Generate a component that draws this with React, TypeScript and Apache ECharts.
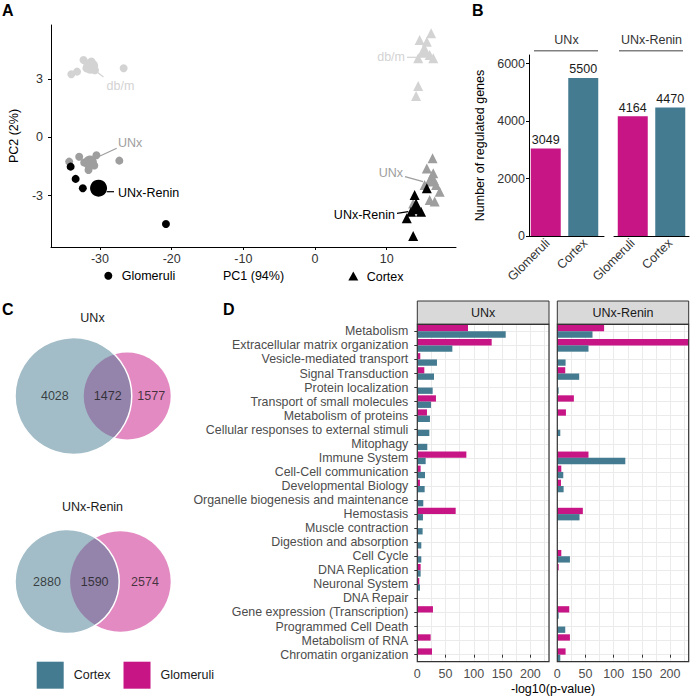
import React, { useEffect, useRef } from 'react';
import * as echarts from 'echarts';

const FONT = '"Liberation Sans", Arial, Helvetica, sans-serif';
const GLOM = '#C71585';
const CORTEX = '#457B91';
const LIGHT = '#D3D3D3';
const MID = '#9E9E9E';
const DARK = '#000000';

// ---------- Panel A : PCA ----------
const pcaXTicks = [-30, -20, -10, 0, 10];
const pcaYTicks = [-3, 0, 3];
const glomDbm = [[-34.0, 3.24], [-33.2, 3.38], [-32.3, 3.98], [-26.7, 3.55], [-31.9, 3.55], [-30.7, 3.45], [-31.2, 3.9]];
const glomDbmMean = [[-31.3, 3.65]];
const glomUnx = [[-34.3, -1.25], [-32.9, -1.0], [-30.5, -0.92], [-27.3, -1.2], [-31.6, -1.68], [-32.2, -1.3], [-30.8, -1.45]];
const glomUnxMean = [[-31.4, -1.3]];
const glomRenin = [[-34.1, -1.51], [-33.4, -2.14], [-32.4, -2.62], [-20.8, -4.46]];
const glomReninMean = [[-30.2, -2.62]];
const cortexDbm = [[16.2, 5.35], [14.6, 5.0], [15.6, 4.92], [15.1, 4.49], [16.0, 4.23], [14.4, 4.06], [16.5, 4.06], [14.4, 2.64], [14.1, 2.12]];
const cortexDbmMean = [[15.3, 4.45]];
const cortexUnx = [[16.4, -1.08], [15.6, -1.6], [16.5, -1.85], [16.0, -2.28], [16.9, -2.45], [15.3, -2.45], [17.4, -2.8], [16.0, -3.22], [13.7, -3.4], [16.7, -3.3]];
const cortexUnxMean = [[16.3, -2.1]];
const cortexRenin = [[15.6, -2.62], [13.9, -2.97], [14.1, -3.4], [13.4, -3.83], [14.8, -3.83], [12.8, -4.17], [13.7, -5.08]];
const cortexReninMean = [[14.1, -3.6]];

// ---------- Panel B : regulated genes ----------
const barGroups = ['Glomeruli', 'Cortex'];
const regulatedUNx = [3049, 5500];
const regulatedRenin = [4164, 4470];

// ---------- Panel C : Venn (cortex only, shared, glomeruli only) ----------
const vennUNx = [4028, 1472, 1577];
const vennRenin = [2880, 1590, 2574];

// ---------- Panel D : pathways ----------
const pathways = [
  'Metabolism', 'Extracellular matrix organization', 'Vesicle-mediated transport', 'Signal Transduction',
  'Protein localization', 'Transport of small molecules', 'Metabolism of proteins',
  'Cellular responses to external stimuli', 'Mitophagy', 'Immune System', 'Cell-Cell communication',
  'Developmental Biology', 'Organelle biogenesis and maintenance', 'Hemostasis', 'Muscle contraction',
  'Digestion and absorption', 'Cell Cycle', 'DNA Replication', 'Neuronal System', 'DNA Repair',
  'Gene expression (Transcription)', 'Programmed Cell Death', 'Metabolism of RNA', 'Chromatin organization',
];
const glomUNxP = [89.7, 131.6, 5.3, 12.4, 0, 33, 17.1, 0, 0, 86.8, 5.9, 4.7, 0, 67.9, 0, 0, 1.5, 5.9, 3.5, 0, 27.7, 0, 23.6, 26];
const cortexUNxP = [156.4, 62, 34.8, 29.5, 27.2, 24.2, 22.4, 21.3, 17.7, 14.8, 13.6, 13, 10.6, 10, 9.4, 7.1, 7.1, 5.9, 4.7, 0, 0, 0, 0, 0];
const glomReninP = [83, 233, 0, 14.1, 0, 29.4, 15.3, 0, 0, 55.3, 7.1, 6.5, 0, 45.3, 0, 0, 7.1, 2.4, 0, 0, 21.2, 0, 22.4, 14.7];
const cortexReninP = [62.4, 55.3, 14.7, 38.8, 2.4, 0, 0, 5.3, 0, 120.6, 10.6, 11.2, 0, 39.4, 0, 0, 22.4, 0, 0, 0, 2.4, 14.1, 0, 5.3];
const pXTicks = [0, 50, 100, 150, 200];

const f = (size: number, weight = 'normal') => `${weight} ${size}px ${FONT}`;
const plain = (v: any) => String(v);

function text(t: string, x: number, y: number, o: any = {}) {
  const align = o.align || 'left';
  const va = o.va || 'middle';
  return {
    type: 'text', x, y, z: 100, silent: true,
    style: {
      text: t, fill: o.color || '#1A1A1A', font: o.font || f(12.5),
      align, verticalAlign: va, textAlign: align, textVerticalAlign: va,
    },
  };
}
function line(x1: number, y1: number, x2: number, y2: number, color: string, w = 1) {
  return { type: 'line', z: 100, silent: true, shape: { x1, y1, x2, y2 }, style: { stroke: color, lineWidth: w } };
}

function lensArea(r1: number, r2: number, d: number) {
  if (d >= r1 + r2) return 0;
  if (d <= Math.abs(r1 - r2)) return Math.PI * Math.min(r1, r2) ** 2;
  const a = r1 * r1 * Math.acos((d * d + r1 * r1 - r2 * r2) / (2 * d * r1));
  const b = r2 * r2 * Math.acos((d * d + r2 * r2 - r1 * r1) / (2 * d * r2));
  const c = 0.5 * Math.sqrt((-d + r1 + r2) * (d + r1 - r2) * (d - r1 + r2) * (d + r1 + r2));
  return a + b - c;
}
function venn(counts: number[], cy: number) {
  const [co, both, go] = counts;
  const r1 = Math.sqrt((co + both) / Math.PI);
  const r2 = Math.sqrt((go + both) / Math.PI);
  let lo = Math.abs(r1 - r2), hi = r1 + r2;
  for (let i = 0; i < 60; i++) {
    const mid = (lo + hi) / 2;
    if (lensArea(r1, r2, mid) > both) lo = mid; else hi = mid;
  }
  const d = (lo + hi) / 2;
  const x0 = 15, W = 155.7;
  const k = W / (r1 + d + r2);
  const R1 = r1 * k, R2 = r2 * k;
  const cx1 = x0 + R1, cx2 = cx1 + d * k;
  const glomLeft = cx2 - R2, cortexRight = cx1 + R1, glomRight = cx2 + R2;
  return {
    cortex: { c: [cx1, cy], size: 2 * R1 },
    glom: { c: [cx2, cy], size: 2 * R2 },
    labels: [
      [glomLeft - 0.42 * (glomLeft - x0), cy, co],
      [(glomLeft + cortexRight) / 2, cy, both],
      [(cortexRight + glomRight) / 2, cy, go],
    ],
  };
}

function buildOption() {
  const A = { left: 51, top: 25, width: 405, height: 222 };
  const B1 = { left: 529, top: 55, width: 75, height: 181 };
  const B2 = { left: 614, top: 55, width: 75, height: 181 };
  const D1 = { left: 417.3, top: 324.3, width: 131.7, height: 337.4 };
  const D2 = { left: 557.3, top: 324.3, width: 131.4, height: 337.4 };
  const dMax = 233;

  const v1 = venn(vennUNx, 396);
  const v2 = venn(vennRenin, 581.5);

  const sc = (data: number[][], color: string, symbol: string, size: number) => ({
    type: 'scatter', xAxisIndex: 0, yAxisIndex: 0, data, symbol, symbolSize: size,
    itemStyle: { color, opacity: 1 }, silent: true,
  });

  const tickLbl = { color: '#333', fontSize: 12.5, fontFamily: FONT, formatter: plain };

  const dBar = (data: number[], color: string, name: string, idx: number) => ({
    type: 'bar', name, data, xAxisIndex: idx, yAxisIndex: idx, barWidth: 6.3, barGap: '0%',
    itemStyle: { color }, z: 3, silent: true,
  });
  const bBar = (data: number[], idx: number) => ({
    type: 'bar', name: 'Glomeruli', xAxisIndex: idx, yAxisIndex: idx, barWidth: 30,
    data: data.map((v, i) => ({ value: v, itemStyle: { color: i === 0 ? GLOM : CORTEX } })),
    itemStyle: { color: GLOM },
    label: { show: true, position: 'top', distance: 2, fontSize: 12.5, color: '#1A1A1A', fontFamily: FONT, formatter: (p: any) => String(p.value) },
    silent: true,
  });

  const dXVisible = (grid: number) => ({
    type: 'value', gridIndex: grid, min: 0, max: dMax, position: 'bottom',
    axisLine: { show: false },
    axisTick: { show: true, length: 3, lineStyle: { color: '#333' }, customValues: pXTicks },
    axisLabel: { customValues: pXTicks, color: '#4D4D4D', fontSize: 12.5, fontFamily: FONT, margin: 6, formatter: plain },
    splitLine: { show: false },
  });
  const dXGrid = (grid: number) => ({
    type: 'value', gridIndex: grid, min: 0, max: dMax, interval: 25, position: 'top',
    axisLine: { show: false }, axisTick: { show: false }, axisLabel: { show: false },
    splitLine: { show: true, lineStyle: { color: '#EBEBEB', width: 1 } },
  });
  const dYCat = (grid: number, labels: boolean) => ({
    type: 'category', gridIndex: grid, data: pathways, inverse: true, position: 'left',
    axisLine: { show: false },
    axisTick: { show: labels, alignWithLabel: true, length: 3, lineStyle: { color: '#333' } },
    axisLabel: { show: labels, interval: 0, color: '#4D4D4D', fontSize: 12.4, fontFamily: FONT, margin: 9 },
    splitLine: { show: false },
  });
  const dYGrid = (grid: number) => ({
    type: 'value', gridIndex: grid, min: -0.5, max: pathways.length - 0.5, splitNumber: pathways.length,
    minInterval: 1, maxInterval: 1, position: 'right',
    axisLine: { show: false }, axisTick: { show: false }, axisLabel: { show: false },
    splitLine: { show: true, lineStyle: { color: '#EBEBEB', width: 1 } },
  });

  const graphic: any[] = [
    text('A', 2, 10, { font: f(16, 'bold'), color: '#000' }),
    text('B', 472, 10, { font: f(16, 'bold'), color: '#000' }),
    text('C', 2, 309, { font: f(16, 'bold'), color: '#000' }),
    text('D', 223, 309, { font: f(16, 'bold'), color: '#000' }),
    // Panel A annotations
    line(96.7, 71.7, 103.5, 77, LIGHT, 1.2), text('db/m', 106.5, 85.7, { color: LIGHT }),
    line(100, 156, 116.7, 148.3, MID, 1.2), text('UNx', 118, 143.3, { color: MID }),
    line(106.7, 191.7, 114, 191.7, DARK, 1.2), text('UNx-Renin', 118, 192.7, { color: DARK }),
    line(407, 57.3, 416.7, 57.3, LIGHT, 1.2), text('db/m', 405, 56.7, { color: LIGHT, align: 'right' }),
    line(405, 176.7, 423, 181.7, MID, 1.2), text('UNx', 403, 172.7, { color: MID, align: 'right' }),
    line(397, 213.3, 408.3, 211.7, DARK, 1.2), text('UNx-Renin', 395, 215, { color: DARK, align: 'right' }),
    { type: 'circle', z: 100, silent: true, shape: { cx: 108.3, cy: 275.7, r: 4 }, style: { fill: '#000' } },
    text('Glomeruli', 121.7, 275.7, { color: '#000' }),
    { type: 'polygon', z: 100, silent: true, shape: { points: [[353.3, 271.5], [348.3, 280.5], [358.3, 280.5]] }, style: { fill: '#000' } },
    text('Cortex', 366.7, 276.7, { color: '#000' }),
    // Panel B strips
    text('UNx', B1.left + B1.width / 2, 40, { align: 'center', color: '#333' }),
    line(534, 50.7, 598, 50.7, '#808080', 1.5),
    text('UNx-Renin', B2.left + B2.width / 2, 40, { align: 'center', color: '#333' }),
    line(619, 50.7, 683, 50.7, '#808080', 1.5),
    // Panel C titles
    text('UNx', 92.5, 318.3, { align: 'center', color: '#1A1A1A' }),
    text('UNx-Renin', 92.5, 506.7, { align: 'center', color: '#1A1A1A' }),
    // Panel D strips and borders
    { type: 'rect', z: 100, silent: true, shape: { x: D1.left, y: 301, width: D1.width, height: D1.top - 301 }, style: { fill: '#D9D9D9', stroke: '#333', lineWidth: 1 } },
    { type: 'rect', z: 100, silent: true, shape: { x: D2.left, y: 301, width: D2.width, height: D2.top - 301 }, style: { fill: '#D9D9D9', stroke: '#333', lineWidth: 1 } },
    text('UNx', D1.left + D1.width / 2, 312.7, { align: 'center', color: '#1A1A1A' }),
    text('UNx-Renin', D2.left + D2.width / 2, 312.7, { align: 'center', color: '#1A1A1A' }),
    { type: 'rect', z: 100, silent: true, shape: { x: D1.left, y: D1.top, width: D1.width, height: D1.height }, style: { fill: 'none', stroke: '#333', lineWidth: 1.2 } },
    { type: 'rect', z: 100, silent: true, shape: { x: D2.left, y: D2.top, width: D2.width, height: D2.height }, style: { fill: 'none', stroke: '#333', lineWidth: 1.2 } },
    text('-log10(p-value)', 553, 689, { align: 'center', color: '#000' }),
  ];

  return {
    animation: false,
    backgroundColor: '#fff',
    textStyle: { fontFamily: FONT },
    graphic,
    legend: {
      data: ['Cortex', 'Glomeruli'], left: 36.7, top: 661.7, padding: 0, orient: 'horizontal',
      itemWidth: 27, itemHeight: 27, itemGap: 13, icon: 'rect', selectedMode: false,
      itemStyle: { borderWidth: 0 },
      textStyle: { fontSize: 12.5, color: '#1A1A1A', fontFamily: FONT, padding: [0, 0, 0, 5] },
    },
    grid: [
      { ...A, outerBoundsMode: 'none', containLabel: false },
      { ...B1, outerBoundsMode: 'none', containLabel: false },
      { ...B2, outerBoundsMode: 'none', containLabel: false },
      { left: 0, top: 290, width: 200, height: 408, outerBoundsMode: 'none', containLabel: false },
      { ...D1, outerBoundsMode: 'none', containLabel: false },
      { ...D2, outerBoundsMode: 'none', containLabel: false },
    ],
    xAxis: [
      {
        type: 'value', gridIndex: 0, min: (51 - 315) / 7.167, max: (456 - 315) / 7.167,
        name: 'PC1 (94%)', nameLocation: 'middle', nameGap: 22,
        nameTextStyle: { fontSize: 12.5, color: '#000', fontFamily: FONT },
        axisLine: { onZero: false, lineStyle: { color: '#000', width: 1 } },
        axisTick: { length: 3, lineStyle: { color: '#000' }, customValues: pcaXTicks },
        axisLabel: { customValues: pcaXTicks, ...tickLbl, margin: 5 },
        splitLine: { show: false },
      },
      {
        type: 'category', gridIndex: 1, data: barGroups,
        axisLine: { onZero: false, lineStyle: { color: '#000', width: 1 } },
        axisTick: { alignWithLabel: true, length: 3, lineStyle: { color: '#000' } },
        axisLabel: { interval: 0, rotate: 45, ...tickLbl, margin: 5 },
      },
      {
        type: 'category', gridIndex: 2, data: barGroups,
        axisLine: { onZero: false, lineStyle: { color: '#000', width: 1 } },
        axisTick: { alignWithLabel: true, length: 3, lineStyle: { color: '#000' } },
        axisLabel: { interval: 0, rotate: 45, ...tickLbl, margin: 5 },
      },
      { type: 'value', gridIndex: 3, min: 0, max: 200, show: false },
      dXVisible(4), dXGrid(4), dXVisible(5), dXGrid(5),
    ],
    yAxis: [
      {
        type: 'value', gridIndex: 0, min: -(247 - 137.3) / 19.44, max: (137.3 - 25) / 19.44,
        name: 'PC2 (2%)', nameLocation: 'middle', nameGap: 27,
        nameTextStyle: { fontSize: 12.5, color: '#000', fontFamily: FONT },
        axisLine: { onZero: false, lineStyle: { color: '#000', width: 1 } },
        axisTick: { length: 3, lineStyle: { color: '#000' }, customValues: pcaYTicks },
        axisLabel: { customValues: pcaYTicks, ...tickLbl, margin: 8 },
        splitLine: { show: false },
      },
      {
        type: 'value', gridIndex: 1, min: 0, max: 6300, interval: 2000,
        name: 'Number of regulated genes', nameLocation: 'middle', nameGap: 43,
        nameTextStyle: { fontSize: 12.5, color: '#000', fontFamily: FONT },
        axisLine: { show: true, onZero: false, lineStyle: { color: '#000', width: 1 } },
        axisTick: { show: true, length: 3, lineStyle: { color: '#000' } },
        axisLabel: { ...tickLbl, margin: 4 },
        splitLine: { show: false },
      },
      { type: 'value', gridIndex: 2, min: 0, max: 6300, interval: 2000, show: false, splitLine: { show: false } },
      { type: 'value', gridIndex: 3, min: 290, max: 698, inverse: true, show: false },
      dYCat(4, true), dYGrid(4), dYCat(5, false), dYGrid(5),
    ],
    series: [
      // Panel A
      sc(glomDbm, LIGHT, 'circle', 8), sc(glomDbmMean, LIGHT, 'circle', 15),
      sc(glomUnx, MID, 'circle', 8), sc(glomUnxMean, MID, 'circle', 14),
      sc(glomRenin, DARK, 'circle', 8), sc(glomReninMean, DARK, 'circle', 17),
      sc(cortexDbm, LIGHT, 'triangle', 10), sc(cortexDbmMean, LIGHT, 'triangle', 14),
      sc(cortexUnx, MID, 'triangle', 10), sc(cortexUnxMean, MID, 'triangle', 14),
      sc(cortexRenin, DARK, 'triangle', 10), sc(cortexReninMean, DARK, 'triangle', 14),
      // Panel B
      bBar(regulatedUNx, 1), bBar(regulatedRenin, 2),
      { type: 'bar', name: 'Cortex', xAxisIndex: 1, yAxisIndex: 1, data: [], itemStyle: { color: CORTEX } },
      // Panel C
      {
        type: 'scatter', xAxisIndex: 3, yAxisIndex: 3, silent: true,
        data: [
          { value: v1.glom.c, symbolSize: v1.glom.size },
          { value: v2.glom.c, symbolSize: v2.glom.size },
        ],
        itemStyle: { color: 'rgba(199,21,133,0.5)', opacity: 1 },
      },
      {
        type: 'scatter', xAxisIndex: 3, yAxisIndex: 3, silent: true,
        data: [
          { value: v1.cortex.c, symbolSize: v1.cortex.size },
          { value: v2.cortex.c, symbolSize: v2.cortex.size },
        ],
        itemStyle: { color: 'rgba(69,123,145,0.5)', borderColor: '#fff', borderWidth: 1.5, opacity: 1 },
      },
      {
        type: 'scatter', xAxisIndex: 3, yAxisIndex: 3, silent: true, symbolSize: 1,
        itemStyle: { color: 'rgba(0,0,0,0)' },
        data: [...v1.labels, ...v2.labels],
        label: {
          show: true, position: 'inside', fontSize: 12.5, color: '#1A1A1A', fontFamily: FONT,
          formatter: (p: any) => String(p.value[2]),
        },
        z: 5,
      },
      // Panel D
      dBar(glomUNxP, GLOM, 'Glomeruli', 4), dBar(cortexUNxP, CORTEX, 'Cortex', 4),
      dBar(glomReninP, GLOM, 'Glomeruli', 6), dBar(cortexReninP, CORTEX, 'Cortex', 6),
    ],
  };
}

export default function App() {
  const ref = useRef<HTMLDivElement>(null);
  useEffect(() => {
    if (!ref.current) return;
    const chart = echarts.init(ref.current, null, { renderer: 'svg' });
    chart.setOption(buildOption() as any);
    return () => chart.dispose();
  }, []);
  return (
    <div
      ref={ref}
      style={{ position: 'absolute', left: 0, top: 0, width: 692, height: 698, background: '#fff' }}
    />
  );
}
